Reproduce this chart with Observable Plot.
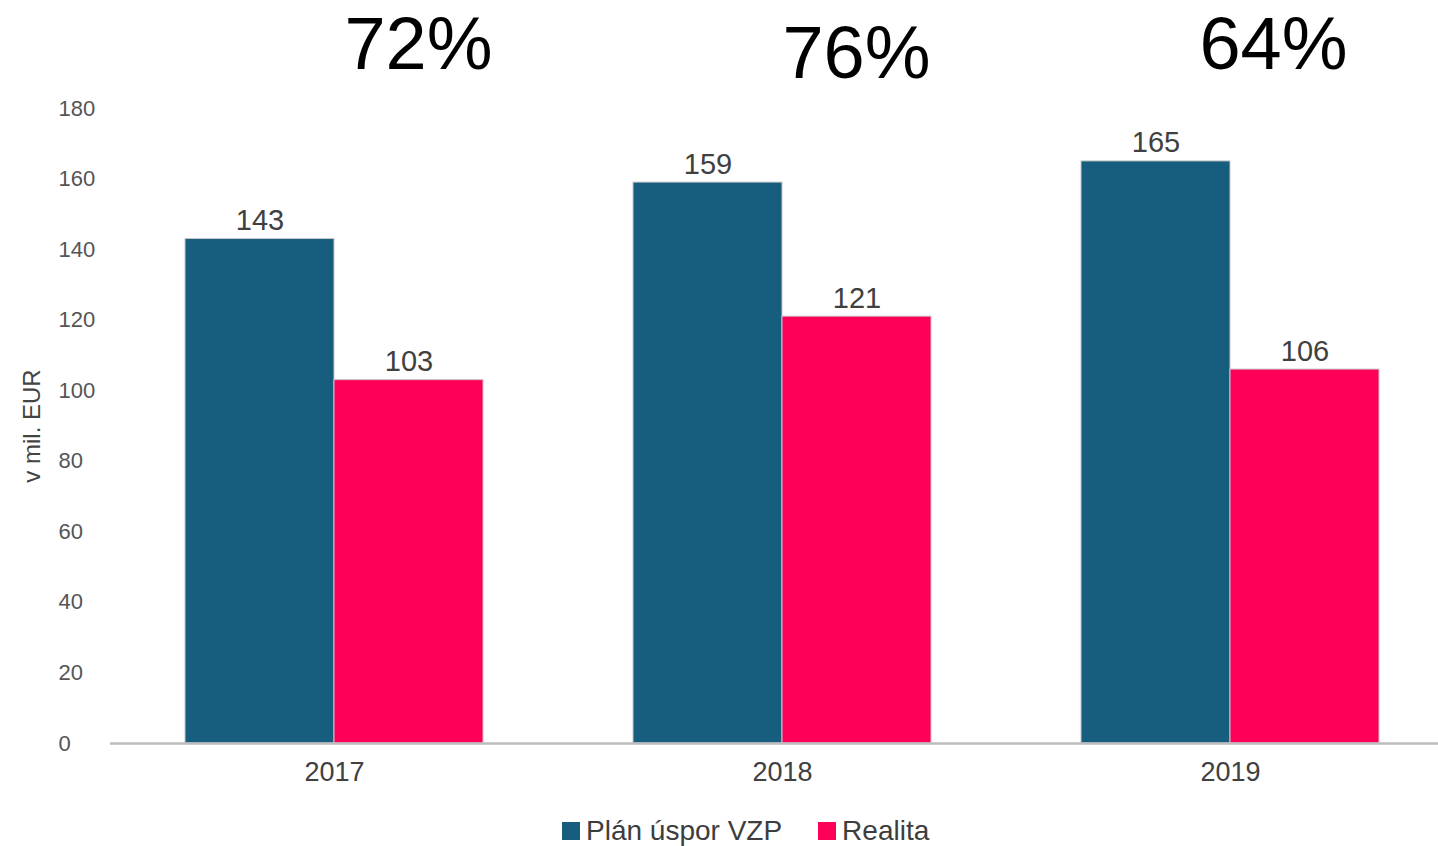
<!DOCTYPE html>
<html>
<head>
<meta charset="utf-8">
<script src="https://cdn.jsdelivr.net/npm/d3@7"></script>
<script src="https://cdn.jsdelivr.net/npm/@observablehq/plot@0.6"></script>
<style>
  html, body { margin: 0; padding: 0; background: #fff; overflow: hidden; width: 1438px; height: 846px; }
  #wrap { position: relative; width: 1438px; height: 846px; font-family: "Liberation Sans", Arial, sans-serif; }
  #chart svg { overflow: visible; }
  #legend { position: absolute; left: 562px; top: 815px; display: flex; align-items: baseline; font-size: 28px; color: #3d3d3d; white-space: nowrap; line-height: 32px; }
  #legend .sw { display: inline-block; width: 18px; height: 18px; margin-right: 6px; }
  #legend .item { display: inline-flex; align-items: baseline; margin-right: 36px; }
</style>
</head>
<body>
<div id="wrap">
  <div id="chart"></div>
  <div id="legend"></div>
</div>
<script>
const years = ["2017", "2018", "2019"];
const planValues = [143, 159, 165];
const realValues = [103, 121, 106];
const pctLabels = ["72%", "76%", "64%"];
const seriesNames = ["Plán úspor VZP", "Realita"];
const seriesColors = ["#175d7d", "#ff0059"];
const yTicks = [0, 20, 40, 60, 80, 100, 120, 140, 160, 180];
const yTitle = "v mil. EUR";

const plan = years.map((y, i) => ({year: y, value: planValues[i]}));
const real = years.map((y, i) => ({year: y, value: realValues[i]}));
const pct = years.map((y, i) => ({year: y, label: pctLabels[i]}));

const font = "Liberation Sans, Arial, sans-serif";
const half = 149;
// per-label placement offsets of the large percentage annotations
const pctOffsets = [{dx: 84, dy: -40}, {dx: 74, dy: -31}, {dx: 43, dy: -40}];

const chart = Plot.plot({
  width: 1438,
  height: 800,
  marginLeft: 110,
  marginRight: -16,
  marginTop: 108,
  marginBottom: 57,
  style: {fontFamily: font, background: "white", overflow: "visible"},
  x: {domain: years, paddingInner: 0.3348, paddingOuter: 0.1674, round: false, axis: null},
  y: {domain: [0, 180], axis: null},
  marks: [
    Plot.barY(plan, {x: "year", y: "value", insetRight: half, fill: seriesColors[0], stroke: "#c8c8c8", strokeWidth: 1}),
    Plot.barY(real, {x: "year", y: "value", insetLeft: half, fill: seriesColors[1], stroke: "#c8c8c8", strokeWidth: 1}),
    Plot.ruleY([0], {stroke: "#bdbdbd", strokeWidth: 2.5}),
    Plot.text(plan, {x: "year", y: "value", text: d => String(d.value), dx: -half / 2, dy: -9, lineAnchor: "bottom", fontSize: 29, fill: "#404040"}),
    Plot.text(real, {x: "year", y: "value", text: d => String(d.value), dx: half / 2, dy: -9, lineAnchor: "bottom", fontSize: 29, fill: "#404040"}),
    ...pct.map((d, i) => Plot.text([d], {x: "year", y: () => 180, text: "label", dx: pctOffsets[i].dx, dy: pctOffsets[i].dy, lineAnchor: "bottom", fontSize: 74, fill: "#000"})),
    Plot.axisY({ticks: yTicks, tickSize: 0, tickPadding: 52, textAnchor: "start", fontSize: 22, fill: "#555", label: null}),
    Plot.axisX({tickSize: 0, tickPadding: 18, fontSize: 27, fill: "#404040", label: null}),
    Plot.text([yTitle], {frameAnchor: "left", textAnchor: "middle", text: d => d, rotate: -90, dx: -78, fontSize: 24, fill: "#444"})
  ]
});
document.getElementById("chart").appendChild(chart);

const legend = document.getElementById("legend");
seriesNames.forEach((name, i) => {
  const item = document.createElement("span");
  item.className = "item";
  const sw = document.createElement("span");
  sw.className = "sw";
  sw.style.background = seriesColors[i];
  item.appendChild(sw);
  item.appendChild(document.createTextNode(name));
  legend.appendChild(item);
});
</script>
</body>
</html>
